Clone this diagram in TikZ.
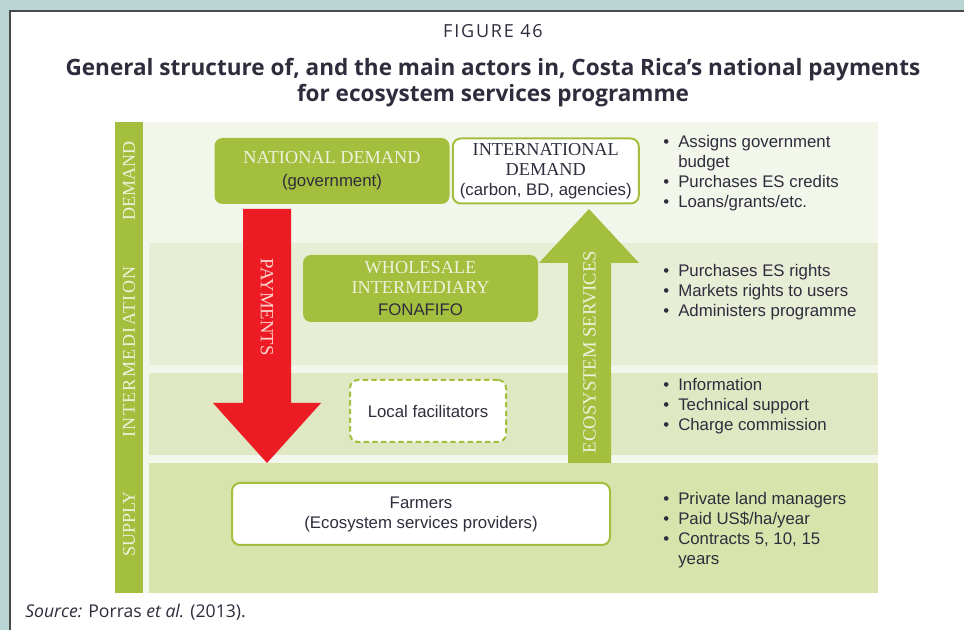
\documentclass[tikz,border=0pt]{standalone}
\usepackage{fontspec}
\setmainfont{Liberation Sans}
\newfontfamily\slabfont{Liberation Serif}
\newfontfamily\capfont{Open Sans}
\usetikzlibrary{positioning}
\definecolor{outerbg}{HTML}{BAD6D4}
\definecolor{rulegray}{HTML}{4A4A4A}
\definecolor{esgreen}{HTML}{A4BE3E}
\definecolor{bandbase}{HTML}{F3F6EA}
\definecolor{bandwhole}{HTML}{E8EDD5}
\definecolor{bandlocal}{HTML}{DFE7C3}
\definecolor{bandsupply}{HTML}{D8E4AC}
\definecolor{payred}{HTML}{ED1C24}
\definecolor{inkdark}{HTML}{2E2D3D}
\definecolor{inklight}{HTML}{EEF2DC}
\definecolor{inkpink}{HTML}{FAD3CF}
\newcommand\bitem[1]{\makebox[11.25pt][l]{\textbullet}#1}
\newcommand\bcont[1]{\hspace*{11.25pt}#1}
\newcommand\slabtext[1]{{\slabfont\fontsize{13.7}{15}\selectfont #1}}

\begin{document}
\begin{tikzpicture}[
  x=0.75pt, y=-0.75pt,
  font=\fontsize{12.6}{15}\selectfont,
  every node/.style={inner sep=0pt, text=inkdark},
  gbox/.style={fill=esgreen, rounded corners=6pt, align=center},
  wbox/.style={fill=white, draw=esgreen, line width=1.5pt, rounded corners=6pt, align=center},
  lbox/.style={wbox, dash pattern=on 4pt off 2.5pt},
  barlabel/.style={rotate=90, text=inklight, font=\slabfont\fontsize{13.5}{15}\selectfont},
  bullets/.style={align=left, anchor=west}
]
\useasboundingbox (0,0) rectangle (964,630);
% frame
\fill[outerbg] (0,0) rectangle (964,630);
\fill[white] (10,11) rectangle (964,630);
\draw[rulegray, line width=1.5pt] (10,630) -- (10,11) -- (964,11);
% heading
\node[font=\capfont\addfontfeature{LetterSpace=10}\fontsize{13.5}{16}\selectfont, anchor=base] (fignum) at (493,38) {FIGURE 46};
\node[font=\capfont\bfseries\fontsize{16.9}{19}\selectfont, anchor=base] (title1) at (493,76) {General structure of, and the main actors in, Costa Rica’s national payments};
\node[font=\capfont\bfseries\fontsize{16.9}{19}\selectfont, anchor=base] (title2) at (493,102) {for ecosystem services programme};
% bands
\fill[esgreen] (115,122) rectangle (143,593);
\fill[bandbase] (143,122) rectangle (878,593);
\fill[bandwhole] (149,243) rectangle (878,365);
\fill[bandlocal] (149,373) rectangle (878,455);
\fill[bandsupply] (149,463) rectangle (878,593);
\node[barlabel] (lbldemand) at (129,181) {DEMAND};
\node[barlabel, font=\slabfont\addfontfeature{LetterSpace=8}\fontsize{13.5}{15}\selectfont] (lblinter) at (129,352) {INTERMEDIATION};
\node[barlabel] (lblsupply) at (129,524) {SUPPLY};
% flows
\fill[payred] (243,209) -- (291,209) -- (291,403) -- (321,403) -- (267,463) -- (213,403) -- (243,403) -- cycle;
\fill[esgreen] (568,463) -- (568,263) -- (539,263) -- (589,209) -- (639,263) -- (611,263) -- (611,463) -- cycle;
\node[rotate=-90, text=inkpink, font=\slabfont\fontsize{14}{15}\selectfont] (paylbl) at (267,307) {PAYMENTS};
\node[rotate=90, text=inklight, font=\slabfont\fontsize{14}{15}\selectfont] (eslbl) at (589.5,352) {ECOSYSTEM SERVICES};
% actors
\node[gbox, minimum width=176.25pt, minimum height=49.5pt] (natdem) at (332,171) {\color{inklight}\slabtext{NATIONAL DEMAND}\\[2pt](government)};
\node[wbox, minimum width=139.5pt, minimum height=48.75pt, right=1.5pt of natdem] (intdem) {\slabtext{INTERNATIONAL}\\\slabtext{DEMAND}\\(carbon, BD, agencies)};
\node[gbox, minimum width=176.25pt, minimum height=50.25pt] (fonafifo) at (420.5,288.5) {\color{inklight}\slabtext{WHOLESALE}\\\color{inklight}\slabtext{INTERMEDIARY}\\[2pt]FONAFIFO};
\node[lbox, minimum width=117pt, minimum height=46.5pt] (facil) at (428,411) {Local facilitators};
\node[wbox, minimum width=283.5pt, minimum height=46.5pt] (farmers) at (421,514) {Farmers\\(Ecosystem services providers)};
% roles
\node[bullets] (demlist) at (663,173) {\bitem{Assigns government}\\\bcont{budget}\\\bitem{Purchases ES credits}\\\bitem{Loans/grants/etc.}};
\node[bullets] (fonlist) at (663,292.5) {\bitem{Purchases ES rights}\\\bitem{Markets rights to users}\\\bitem{Administers programme}};
\node[bullets] (faclist) at (663,406) {\bitem{Information}\\\bitem{Technical support}\\\bitem{Charge commission}};
\node[bullets] (farmlist) at (663,530) {\bitem{Private land managers}\\\bitem{Paid US\$/ha/year}\\\bitem{Contracts 5, 10, 15}\\\bcont{years}};
% source
\node[anchor=base west, font=\capfont\fontsize{13.2}{15}\selectfont] (src) at (25,618) {\textit{Source:} Porras \textit{et al.} (2013).};
\end{tikzpicture}
\end{document}
